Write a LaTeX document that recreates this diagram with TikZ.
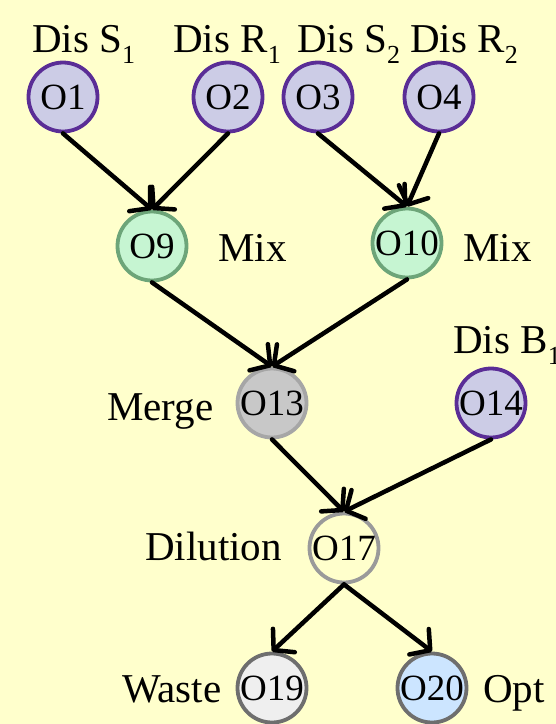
\documentclass[tikz,border=0pt]{standalone}
\usepackage{fontspec}
\setmainfont{Liberation Serif}
\usetikzlibrary{arrows.meta}
\definecolor{bg}{HTML}{FFFFCC}
\definecolor{purfill}{HTML}{CCCCE6}
\definecolor{purline}{HTML}{5A2D96}
\definecolor{grnfill}{HTML}{C6F5D2}
\definecolor{grnline}{HTML}{6DA579}
\definecolor{gryfill}{HTML}{C8C8C8}
\definecolor{gryline}{HTML}{A6A6A6}
\definecolor{dilline}{HTML}{9A9A9A}
\definecolor{wstfill}{HTML}{EFEFEF}
\definecolor{outline}{HTML}{6E6E6E}
\definecolor{optfill}{HTML}{CCE5FF}
\newcommand{\subx}[1]{\raisebox{-11pt}{\fontsize{26}{26}\selectfont #1}}
\begin{document}
\begin{tikzpicture}[x=1pt,y=-1pt,
  op/.style={circle,minimum size=69pt,inner sep=0pt,line width=3.8pt,font=\fontsize{37}{37}\selectfont\rmfamily},
  dis/.style={op,fill=purfill,draw=purline},
  mixop/.style={op,fill=grnfill,draw=grnline},
  mrg/.style={op,fill=gryfill,draw=gryline},
  dil/.style={op,fill=bg,draw=dilline},
  wst/.style={op,fill=wstfill,draw=outline},
  opt/.style={op,fill=optfill,draw=outline},
  lbl/.style={anchor=base west,inner sep=0pt,font=\fontsize{41}{41}\selectfont\rmfamily},
  arr/.style={line width=4.5pt,line cap=round,-{Straight Barb[length=14pt,width=32pt,line width=4.5pt,round]}}]
\useasboundingbox (0,0) rectangle (556,724);
\clip (0,0) rectangle (556,724);
\fill[bg] (0,0) rectangle (556,724);
% operation nodes
\node[dis] (O1) at (63,97) {O1};
\node[dis] (O2) at (228,97) {O2};
\node[dis] (O3) at (318,97) {O3};
\node[dis] (O4) at (439,97) {O4};
\node[mixop] (O9) at (152,246) {O9};
\node[mixop] (O10) at (407,243) {O10};
\node[mrg] (O13) at (272,403) {O13};
\node[dis] (O14) at (491,403) {O14};
\node[dil] (O17) at (344,548) {O17};
\node[wst] (O19) at (272,688) {O19};
\node[opt] (O20) at (432,688) {O20};
% labels
\node[lbl] (L1) at (32,52) {Dis S\subx{1}};
\node[lbl] (L2) at (173,52) {Dis R\subx{1}};
\node[lbl] (L3) at (297,52) {Dis S\subx{2}};
\node[lbl] (L4) at (410,52) {Dis R\subx{2}};
\node[lbl] (L9) at (218,261) {Mix};
\node[lbl] (L10) at (463,261) {Mix};
\node[lbl] (L13) at (107,420) {Merge};
\node[lbl] (L14) at (453,353) {Dis B\subx{1}};
\node[lbl] (L17) at (145,560) {Dilution};
\node[lbl] (L19) at (122,702) {Waste};
\node[lbl] (L20) at (483,702) {Opt};
% connectors
\draw[arr] (O1.south) -- (O9.north);
\draw[arr] (O2.south) -- (O9.north);
\draw[arr] (O3.south) -- (O10.north);
\draw[arr] (O4.south) -- (O10.north);
\draw[arr] (O9.south) -- (O13.north);
\draw[arr] (O10.south) -- (O13.north);
\draw[arr] (O13.south) -- (O17.north);
\draw[arr] (O14.south) -- (O17.north);
\draw[arr] (O17.south) -- (O19.north);
\draw[arr] (O17.south) -- (O20.north);
\end{tikzpicture}
\end{document}
